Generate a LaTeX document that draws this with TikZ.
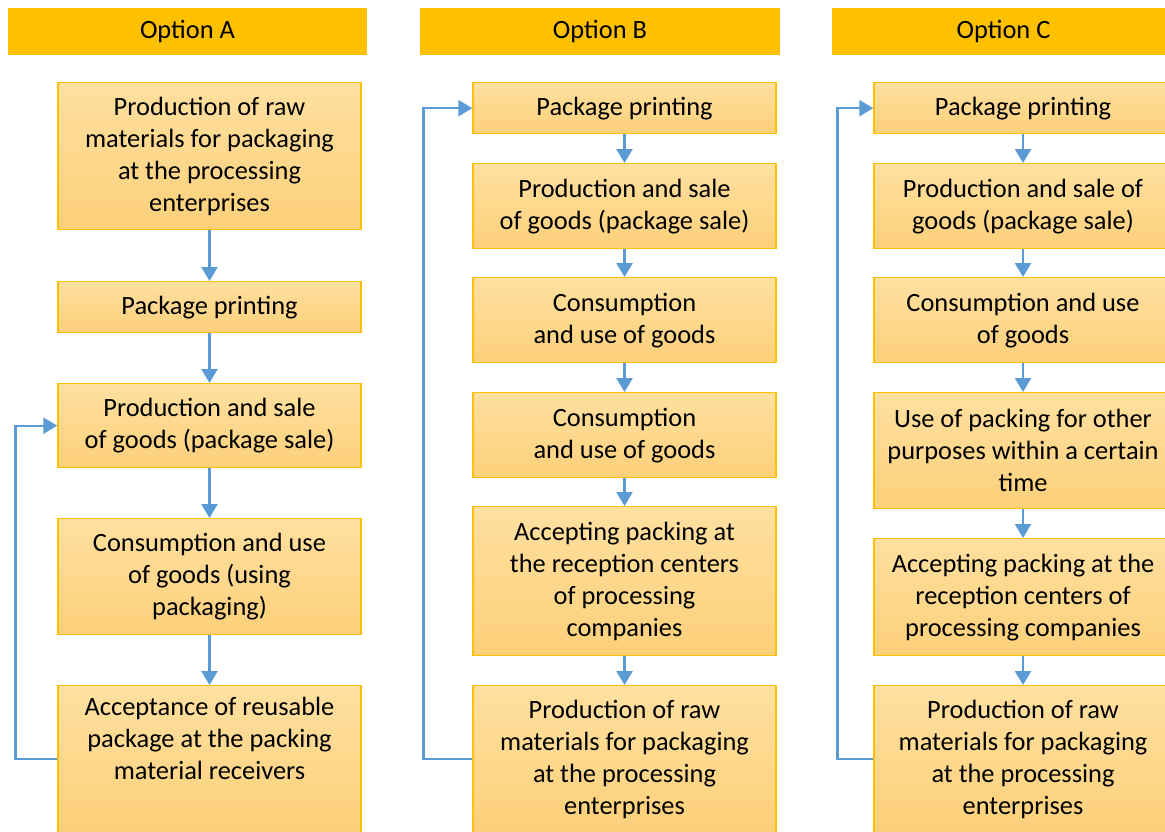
\documentclass[tikz,border=0pt]{standalone}
\usepackage{fontspec}
\setmainfont{Carlito}
\usetikzlibrary{arrows.meta}
\definecolor{headerColor}{RGB}{255,192,0}
\definecolor{boxTop}{RGB}{255,224,160}
\definecolor{boxBottom}{RGB}{252,208,122}
\definecolor{arrowColor}{RGB}{91,155,213}
\tikzstyle{chart} = [x = .5pt, y = -.5pt]
\tikzstyle{headerStyle} = [fill=headerColor, minimum height=23.5pt, inner sep=0pt, font=\fontsize{13.2}{16}\selectfont]
\tikzstyle{stepStyle} = [draw=headerColor, line width=.7pt, top color=boxTop, bottom color=boxBottom, minimum width=\boxWidth * .5pt, inner sep=0pt, align=center, anchor=north, font=\fontsize{13.2}{16}\selectfont]
\tikzstyle{flowArrow} = [draw=arrowColor, line width=1.2pt, -{Triangle[length=7pt, width=8pt]}]
\newcommand{\boxWidth}{303}
\newcommand{\stepBox}[5]{\node [stepStyle, minimum height = #4 * .5pt] (#1) at (#2, #3) {#5};}
\newcommand{\optionHeader}[4]{\node [headerStyle, minimum width = #3 * .5pt] (#1) at (#2, 31.5) {#4};}

\begin{document}
\begin{tikzpicture}[chart]
            \useasboundingbox (0,0) rectangle (1165,831);
            \clip (0,0) rectangle (1165,831);

            \optionHeader{headA}{187.5}{359}{Option A}
            \optionHeader{headB}{600}{360}{Option B}
            \optionHeader{headC}{1003.5}{343}{Option C}

            % option A
            \stepBox{aRaw}{209.5}{82}{147}{Production of raw\\materials for packaging\\at the processing\\enterprises}
            \stepBox{aPrint}{209.5}{281}{51}{Package printing}
            \stepBox{aSale}{209.5}{383}{84}{Production and sale\\of goods (package sale)}
            \stepBox{aUse}{209.5}{518}{116}{Consumption and use\\of goods (using\\packaging)}
            \stepBox{aAccept}{209.5}{685}{147}{Acceptance of reusable\\package at the packing\\material receivers\\\strut}

            % option B
            \stepBox{bPrint}{624.5}{82}{51}{Package printing}
            \stepBox{bSale}{624.5}{163}{85}{Production and sale\\of goods (package sale)}
            \stepBox{bUse}{624.5}{277}{85}{Consumption\\and use of goods}
            \stepBox{bUseTwo}{624.5}{392}{85}{Consumption\\and use of goods}
            \stepBox{bAccept}{624.5}{506}{149}{Accepting packing at\\the reception centers\\of processing\\companies}
            \stepBox{bRaw}{624.5}{685}{147}{Production of raw\\materials for packaging\\at the processing\\enterprises}

            % option C
            \renewcommand{\boxWidth}{298}
            \stepBox{cPrint}{1023}{82}{51}{Package printing}
            \stepBox{cSale}{1023}{163}{85}{Production and sale of\\goods (package sale)}
            \stepBox{cUse}{1023}{277}{85}{Consumption and use\\of goods}
            \stepBox{cOther}{1023}{392}{116}{Use of packing for other\\purposes within a certain\\time}
            \stepBox{cAccept}{1023}{538}{117}{Accepting packing at the\\reception centers of\\processing companies}
            \stepBox{cRaw}{1023}{685}{147}{Production of raw\\materials for packaging\\at the processing\\enterprises}

            \foreach \from/\to in {aRaw/aPrint, aPrint/aSale, aSale/aUse, aUse/aAccept,
                bPrint/bSale, bSale/bUse, bUse/bUseTwo, bUseTwo/bAccept, bAccept/bRaw,
                cPrint/cSale, cSale/cUse, cUse/cOther, cOther/cAccept, cAccept/cRaw}
              \draw [flowArrow] (\from) -- (\to);

            % back to the start
            \draw [flowArrow] (aAccept.west) -- ++(-42,0) |- (aSale.west);
            \draw [flowArrow] (bRaw.west) -- ++(-49,0) |- (bPrint.west);
            \draw [flowArrow] (cRaw.west) -- ++(-36,0) |- (cPrint.west);
          \end{tikzpicture}
\end{document}
